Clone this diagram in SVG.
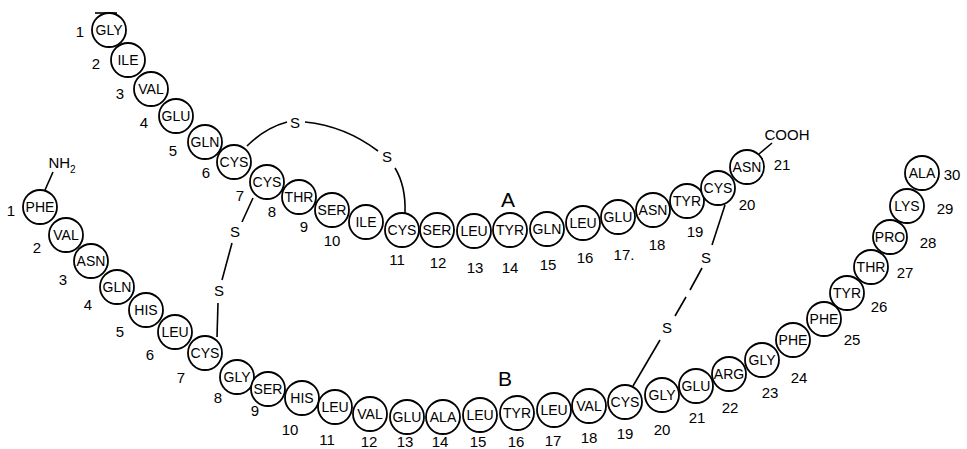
<svg xmlns="http://www.w3.org/2000/svg" width="967" height="449" viewBox="0 0 967 449">
  <style>
    .res circle { fill: #fff; stroke: #000; stroke-width: 1.8; }
    .res text { font-family: "Liberation Sans", Arial, sans-serif; font-size: 14px; text-anchor: middle; fill: #000; }
    .num { font-family: "Liberation Sans", Arial, sans-serif; font-size: 15px; text-anchor: middle; fill: #000; }
    .lbl { font-family: "Liberation Sans", Arial, sans-serif; font-size: 15px; text-anchor: middle; fill: #000; }
    .chain { font-family: "Liberation Sans", Arial, sans-serif; font-size: 21px; text-anchor: middle; fill: #000; }
    .bond { fill: none; stroke: #000; stroke-width: 1.6; }
  </style>
  <rect width="967" height="449" fill="#fff"/>

  <!-- bonds: disulfide bridges and terminal groups -->
  <g id="connectors">
    <path class="bond" d="M247,146 Q265,128 287,122"/>
    <path class="bond" d="M305,122 Q345,126 378,151"/>
    <path class="bond" d="M395,168 Q406,186 405,213"/>
    <path class="bond" d="M253,198 L242,222"/>
    <path class="bond" d="M232,243 L222,280"/>
    <path class="bond" d="M218,303 L217,337"/>
    <path class="bond" d="M725,205 L712,245"/>
    <path class="bond" d="M702,268 L690,290"/>
    <path class="bond" d="M686,297 L675,316"/>
    <path class="bond" d="M660,340 L633,386"/>
    <path class="bond" d="M45,190 L53,172"/>
    <path class="bond" d="M759,154 L772,143"/>
    <path class="bond" d="M95,13 L117,13"/>
  </g>

  <g id="sulfur">
    <text class="lbl" x="295" y="128">S</text>
    <text class="lbl" x="387" y="162">S</text>
    <text class="lbl" x="235" y="237">S</text>
    <text class="lbl" x="219" y="296">S</text>
    <text class="lbl" x="706" y="263">S</text>
    <text class="lbl" x="667" y="333">S</text>
  </g>

  <g id="termini">
    <text class="lbl" x="62" y="168">NH<tspan font-size="10" dy="5">2</tspan></text>
    <text class="lbl" x="787" y="140" font-size="13">COOH</text>
  </g>

  <text class="chain" x="508" y="207">A</text>
  <text class="chain" x="505" y="386">B</text>

  <!-- chain A -->
  <g id="chainA">
    <g id="A1" class="res"><circle cx="109" cy="30" r="17"/><text x="109" y="35">GLY</text></g>
    <g id="A2" class="res"><circle cx="128" cy="60" r="17"/><text x="128" y="65">ILE</text></g>
    <g id="A3" class="res"><circle cx="151" cy="89" r="17"/><text x="151" y="94">VAL</text></g>
    <g id="A4" class="res"><circle cx="176" cy="116" r="17"/><text x="176" y="121">GLU</text></g>
    <g id="A5" class="res"><circle cx="205" cy="142" r="17"/><text x="205" y="147">GLN</text></g>
    <g id="A6" class="res"><circle cx="234" cy="162" r="17"/><text x="234" y="167">CYS</text></g>
    <g id="A7" class="res"><circle cx="267" cy="182" r="17"/><text x="267" y="187">CYS</text></g>
    <g id="A8" class="res"><circle cx="299" cy="197" r="17"/><text x="299" y="202">THR</text></g>
    <g id="A9" class="res"><circle cx="332" cy="210" r="17"/><text x="332" y="215">SER</text></g>
    <g id="A10" class="res"><circle cx="366" cy="222" r="17"/><text x="366" y="227">ILE</text></g>
    <g id="A11" class="res"><circle cx="402" cy="230" r="17"/><text x="402" y="235">CYS</text></g>
    <g id="A12" class="res"><circle cx="437" cy="230" r="17"/><text x="437" y="235">SER</text></g>
    <g id="A13" class="res"><circle cx="474" cy="231" r="17"/><text x="474" y="236">LEU</text></g>
    <g id="A14" class="res"><circle cx="510" cy="230" r="17"/><text x="510" y="235">TYR</text></g>
    <g id="A15" class="res"><circle cx="547" cy="229" r="17"/><text x="547" y="234">GLN</text></g>
    <g id="A16" class="res"><circle cx="583" cy="223" r="17"/><text x="583" y="228">LEU</text></g>
    <g id="A17" class="res"><circle cx="618" cy="217" r="17"/><text x="618" y="222">GLU</text></g>
    <g id="A18" class="res"><circle cx="653" cy="210" r="17"/><text x="653" y="215">ASN</text></g>
    <g id="A19" class="res"><circle cx="687" cy="201" r="17"/><text x="687" y="206">TYR</text></g>
    <g id="A20" class="res"><circle cx="718" cy="188" r="17"/><text x="718" y="193">CYS</text></g>
    <g id="A21" class="res"><circle cx="747" cy="167" r="17"/><text x="747" y="172">ASN</text></g>
  </g>
  <g id="numbersA">
    <text class="num" x="80" y="37">1</text>
    <text class="num" x="96" y="69">2</text>
    <text class="num" x="120" y="99">3</text>
    <text class="num" x="144" y="128">4</text>
    <text class="num" x="173" y="156">5</text>
    <text class="num" x="206" y="178">6</text>
    <text class="num" x="240" y="201">7</text>
    <text class="num" x="272" y="217">8</text>
    <text class="num" x="304" y="232">9</text>
    <text class="num" x="332" y="246">10</text>
    <text class="num" x="397" y="265">11</text>
    <text class="num" x="438" y="268">12</text>
    <text class="num" x="475" y="273">13</text>
    <text class="num" x="510" y="273">14</text>
    <text class="num" x="548" y="270">15</text>
    <text class="num" x="585" y="263">16</text>
    <text class="num" x="624" y="260">17.</text>
    <text class="num" x="657" y="250">18</text>
    <text class="num" x="695" y="237">19</text>
    <text class="num" x="747" y="210">20</text>
    <text class="num" x="782" y="170">21</text>
  </g>

  <!-- chain B -->
  <g id="chainB">
    <g id="B1" class="res"><circle cx="40" cy="207" r="17"/><text x="40" y="212">PHE</text></g>
    <g id="B2" class="res"><circle cx="66" cy="235" r="17"/><text x="66" y="240">VAL</text></g>
    <g id="B3" class="res"><circle cx="91" cy="261" r="17"/><text x="91" y="266">ASN</text></g>
    <g id="B4" class="res"><circle cx="117" cy="287" r="17"/><text x="117" y="292">GLN</text></g>
    <g id="B5" class="res"><circle cx="146" cy="310" r="17"/><text x="146" y="315">HIS</text></g>
    <g id="B6" class="res"><circle cx="175" cy="332" r="17"/><text x="175" y="337">LEU</text></g>
    <g id="B7" class="res"><circle cx="205" cy="353" r="17"/><text x="205" y="358">CYS</text></g>
    <g id="B8" class="res"><circle cx="237" cy="377" r="17"/><text x="237" y="382">GLY</text></g>
    <g id="B9" class="res"><circle cx="268" cy="389" r="17"/><text x="268" y="394">SER</text></g>
    <g id="B10" class="res"><circle cx="302" cy="398" r="17"/><text x="302" y="403">HIS</text></g>
    <g id="B11" class="res"><circle cx="335" cy="407" r="17"/><text x="335" y="412">LEU</text></g>
    <g id="B12" class="res"><circle cx="370" cy="414" r="17"/><text x="370" y="419">VAL</text></g>
    <g id="B13" class="res"><circle cx="407" cy="417" r="17"/><text x="407" y="422">GLU</text></g>
    <g id="B14" class="res"><circle cx="443" cy="417" r="17"/><text x="443" y="422">ALA</text></g>
    <g id="B15" class="res"><circle cx="480" cy="415" r="17"/><text x="480" y="420">LEU</text></g>
    <g id="B16" class="res"><circle cx="517" cy="413" r="17"/><text x="517" y="418">TYR</text></g>
    <g id="B17" class="res"><circle cx="554" cy="410" r="17"/><text x="554" y="415">LEU</text></g>
    <g id="B18" class="res"><circle cx="589" cy="406" r="17"/><text x="589" y="411">VAL</text></g>
    <g id="B19" class="res"><circle cx="625" cy="402" r="17"/><text x="625" y="407">CYS</text></g>
    <g id="B20" class="res"><circle cx="662" cy="395" r="17"/><text x="662" y="400">GLY</text></g>
    <g id="B21" class="res"><circle cx="696" cy="386" r="17"/><text x="696" y="391">GLU</text></g>
    <g id="B22" class="res"><circle cx="729" cy="374" r="17"/><text x="729" y="379">ARG</text></g>
    <g id="B23" class="res"><circle cx="762" cy="360" r="17"/><text x="762" y="365">GLY</text></g>
    <g id="B24" class="res"><circle cx="793" cy="340" r="17"/><text x="793" y="345">PHE</text></g>
    <g id="B25" class="res"><circle cx="824" cy="319" r="17"/><text x="824" y="324">PHE</text></g>
    <g id="B26" class="res"><circle cx="847" cy="293" r="17"/><text x="847" y="298">TYR</text></g>
    <g id="B27" class="res"><circle cx="871" cy="267" r="17"/><text x="871" y="272">THR</text></g>
    <g id="B28" class="res"><circle cx="890" cy="237" r="17"/><text x="890" y="242">PRO</text></g>
    <g id="B29" class="res"><circle cx="907" cy="206" r="17"/><text x="907" y="211">LYS</text></g>
    <g id="B30" class="res"><circle cx="922" cy="173" r="17"/><text x="922" y="178">ALA</text></g>
  </g>
  <g id="numbersB">
    <text class="num" x="11" y="216">1</text>
    <text class="num" x="37" y="253">2</text>
    <text class="num" x="63" y="285">3</text>
    <text class="num" x="88" y="310">4</text>
    <text class="num" x="120" y="337">5</text>
    <text class="num" x="150" y="360">6</text>
    <text class="num" x="181" y="383">7</text>
    <text class="num" x="218" y="403">8</text>
    <text class="num" x="255" y="416">9</text>
    <text class="num" x="290" y="435">10</text>
    <text class="num" x="327" y="445">11</text>
    <text class="num" x="369" y="447">12</text>
    <text class="num" x="405" y="447">13</text>
    <text class="num" x="440" y="447">14</text>
    <text class="num" x="478" y="447">15</text>
    <text class="num" x="516" y="447">16</text>
    <text class="num" x="553" y="446">17</text>
    <text class="num" x="589" y="443">18</text>
    <text class="num" x="625" y="439">19</text>
    <text class="num" x="662" y="435">20</text>
    <text class="num" x="697" y="423">21</text>
    <text class="num" x="730" y="413">22</text>
    <text class="num" x="770" y="398">23</text>
    <text class="num" x="799" y="383">24</text>
    <text class="num" x="852" y="345">25</text>
    <text class="num" x="879" y="312">26</text>
    <text class="num" x="905" y="278">27</text>
    <text class="num" x="928" y="248">28</text>
    <text class="num" x="945" y="214">29</text>
    <text class="num" x="952" y="180">30</text>
  </g>
</svg>
